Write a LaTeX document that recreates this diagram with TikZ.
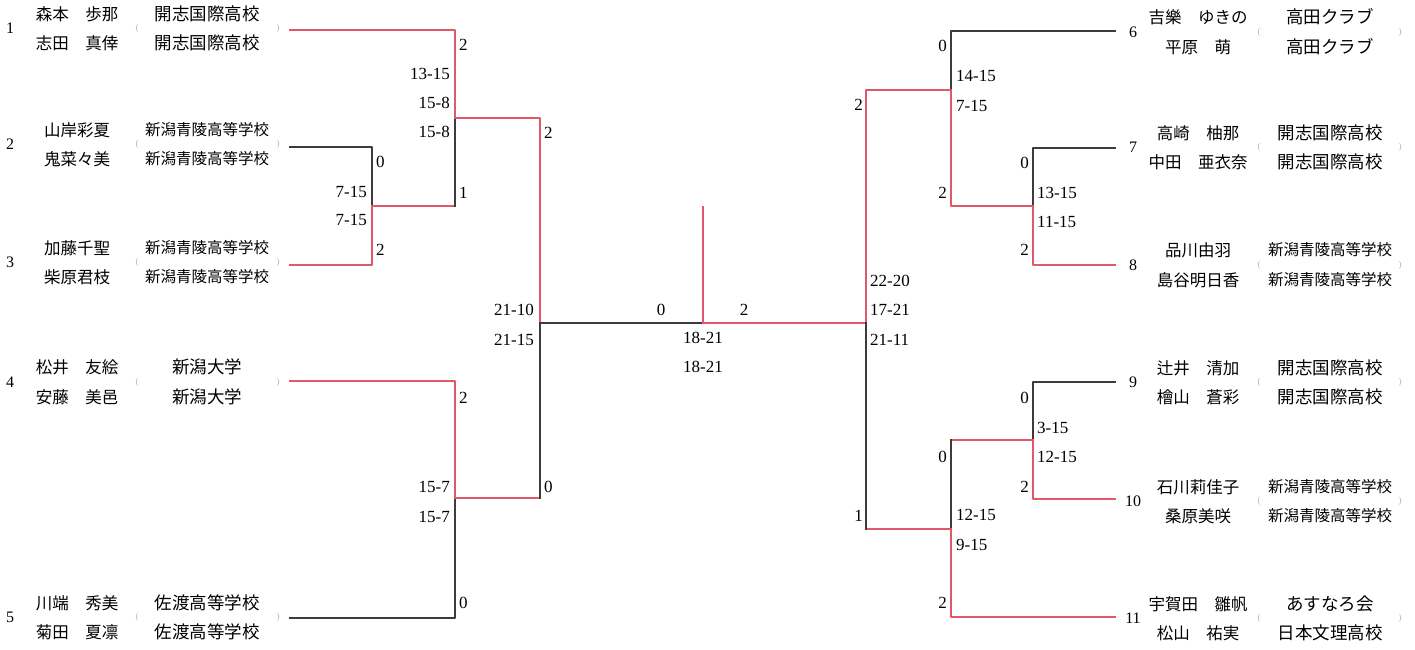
\documentclass[tikz,border=0pt]{standalone}
\usepackage{fontspec}
\newfontfamily\jp{Noto Sans CJK JP}
\newfontfamily\numf{Liberation Serif}
\definecolor{winred}{RGB}{226,88,104}
\definecolor{losegray}{RGB}{60,60,60}
\tikzset{
  win/.style={draw=winred,line width=1.9pt,line cap=rect},
  lose/.style={draw=losegray,line width=1.9pt,line cap=rect},
  scr/.style={font=\numf\fontsize{17}{17}\selectfont,inner sep=1pt},
  seed/.style={font=\numf\fontsize{16}{16}\selectfont,inner sep=0pt},
  nm/.style={font=\jp\fontsize{16.5}{16.5}\selectfont,inner sep=0pt},
  par/.style={font=\numf\fontsize{9}{9}\selectfont,text=gray!60,inner sep=0pt}
}
\begin{document}
\begin{tikzpicture}[x=1pt,y=-1pt,line join=round]
	\useasboundingbox (0,0) rectangle (1415,649);
	\def \lx{290}
	\def \rx{1115}
	% left side entries
	\foreach \n/\ya/\yb/\ly/\na/\nb/\sa/\sb/\fs in {1/14/43/30/森本　歩那/志田　真倖/開志国際高校/開志国際高校/17.5,
		2/130/159/147/山岸彩夏/鬼菜々美/新潟青陵高等学校/新潟青陵高等学校/15.5,
		3/248/277/265/加藤千聖/柴原君枝/新潟青陵高等学校/新潟青陵高等学校/15.5,
		4/367/397/381/松井　友絵/安藤　美邑/新潟大学/新潟大学/17.5,
		5/603/632/618/川端　秀美/菊田　夏凛/佐渡高等学校/佐渡高等学校/17.5}{
		\pgfmathsetmacro\ym{(\ya+\yb)/2}
		\node[seed] (n\n) at (10,\ym) {\n};
		\node[nm] (na\n) at (77,\ya) {\na};
		\node[nm] (nb\n) at (77,\yb) {\nb};
		\node[par] (po\n) at (137,\ym) {(};
		\node[nm,font=\jp\fontsize{\fs}{\fs}\selectfont] (sa\n) at (207,\ya) {\sa};
		\node[nm,font=\jp\fontsize{\fs}{\fs}\selectfont] (sb\n) at (207,\yb) {\sb};
		\node[par] (pc\n) at (278,\ym) {)};
		\coordinate (p\n) at (\lx,\ly);
	}
	% right side entries
	\foreach \n/\ya/\yb/\ly/\na/\nb/\sa/\sb/\fs in {6/17/47/31/吉樂　ゆきの/平原　萌/高田クラブ/高田クラブ/17.5,
		7/133/162/148/高崎　柚那/中田　亜衣奈/開志国際高校/開志国際高校/17.5,
		8/250/280/265/品川由羽/島谷明日香/新潟青陵高等学校/新潟青陵高等学校/15.5,
		9/368/397/382/辻井　清加/檜山　蒼彩/開志国際高校/開志国際高校/17.5,
		10/487/516/499/石川莉佳子/桑原美咲/新潟青陵高等学校/新潟青陵高等学校/15.5,
		11/604/633/617/宇賀田　雛帆/松山　祐実/あすなろ会/日本文理高校/17.5}{
		\pgfmathsetmacro\ym{(\ya+\yb)/2}
		\node[seed] (n\n) at (1133,\ym) {\n};
		\node[nm] (na\n) at (1198,\ya) {\na};
		\node[nm] (nb\n) at (1198,\yb) {\nb};
		\node[par] (po\n) at (1259,\ym) {(};
		\node[nm,font=\jp\fontsize{\fs}{\fs}\selectfont] (sa\n) at (1330,\ya) {\sa};
		\node[nm,font=\jp\fontsize{\fs}{\fs}\selectfont] (sb\n) at (1330,\yb) {\sb};
		\node[par] (pc\n) at (1400,\ym) {)};
		\coordinate (q\n) at (\rx,\ly);
	}
	% junctions
	\coordinate (m23) at (372,206);
	\coordinate (m123) at (455,118);
	\coordinate (m45) at (455,498);
	\coordinate (sf) at (540,323);
	\coordinate (c) at (703,323);
	\coordinate (ct) at (703,207);
	\coordinate (n78) at (1033,206);
	\coordinate (n678) at (951,90);
	\coordinate (n910) at (1033,440);
	\coordinate (n911) at (951,529);
	\coordinate (rsf) at (866,323);
	% left bracket
	\draw[lose] (p2) -| (m23);
	\draw[win] (p3) -| (m23);
	\draw[win] (p1) -| (m123);
	\draw[win] (m23) -- (m23 -| m123);
	\draw[lose] (m23 -| m123) -- (m123);
	\draw[win] (m123) -| (sf);
	\draw[win] (p4) -| (m45);
	\draw[lose] (p5) -| (m45);
	\draw[win] (m45) -- (m45 -| sf);
	\draw[lose] (m45 -| sf) -- (sf);
	% final
	\draw[lose] (sf) -- (c);
	\draw[win] (c) -- (ct);
	\draw[win] (c) -- (rsf);
	% right bracket
	\draw[lose] (q6) -| (n678);
	\draw[lose] (q7) -| (n78);
	\draw[win] (q8) -| (n78);
	\draw[win] (n78) -| (n678);
	\draw[win] (n678) -| (rsf);
	\draw[lose] (q9) -| (n910);
	\draw[win] (q10) -| (n910);
	\draw[win] (n910) -- (n910 -| n911);
	\draw[lose] (n910 -| n911) -- (n911);
	\draw[win] (q11) -| (n911);
	\draw[win] (n911) -- (n911 -| rsf);
	\draw[lose] (n911 -| rsf) -- (rsf);
	% scores
	\foreach \x/\y/\t [count=\i] in {458/45/2, 458/193/1, 375/162/0, 375/250/2, 543/133/2, 543/487/0,
		458/398/2, 458/603/0, 955/76/14-15, 955/106/7-15, 1036/193/13-15, 1036/222/11-15,
		869/281/22-20, 869/310/17-21, 869/340/21-11, 1036/428/3-15, 1036/457/12-15,
		955/515/12-15, 955/545/9-15}
		\node[scr,anchor=west] (sw\i) at (\x,\y) {\t};
	\foreach \x/\y/\t [count=\i] in {451/74/13-15, 451/103/15-8, 451/132/15-8, 368/192/7-15, 368/220/7-15,
		535/310/21-10, 535/340/21-15, 451/487/15-7, 451/517/15-7, 948/46/0, 864/105/2,
		1030/163/0, 1030/250/2, 948/193/2, 1030/398/0, 1030/487/2, 948/457/0, 864/516/1, 948/603/2}
		\node[scr,anchor=east] (se\i) at (\x,\y) {\t};
	\foreach \x/\y/\t [count=\i] in {661/310/0, 744/310/2, 703/338/18-21, 703/367/18-21}
		\node[scr] (sc\i) at (\x,\y) {\t};
\end{tikzpicture}
\end{document}
